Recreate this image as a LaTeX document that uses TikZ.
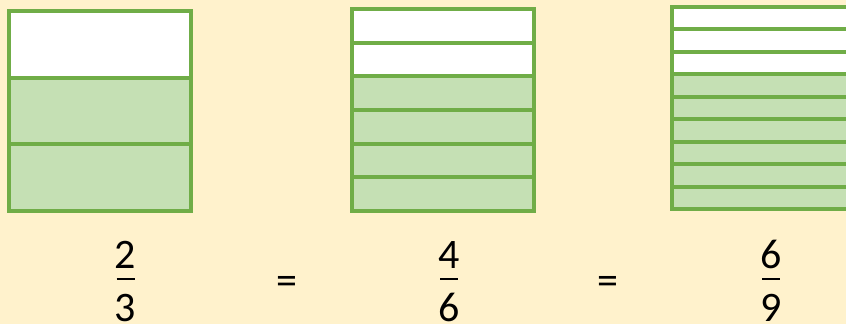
\documentclass[tikz,border=0pt]{standalone}
\usepackage{fontspec}
\setmainfont{Carlito}
\definecolor{bg}{HTML}{FFF2CC}
\definecolor{edge}{HTML}{70AD47}
\definecolor{part}{HTML}{C5E0B4}
\tikzset{
  cell/.style={draw=edge,line width=4pt},
  digit/.style={font=\fontsize{42}{42}\selectfont, anchor=base, inner sep=0pt},
  fbar/.style={line width=2pt, black},
}
\newcommand\barbox[6]{% left right top bottom parts whiteparts
  \pgfmathsetmacro\hh{(#3-#4)/#5}
  \pgfmathtruncatemacro\nn{#5-1}
  \fill[part] (#1,#4) rectangle (#2,#3);
  \fill[white] (#1,#3) rectangle (#2,#3-#6*\hh);
  \foreach \k in {1,...,\nn} {\draw[cell] (#1,#3-\k*\hh) -- (#2,#3-\k*\hh);}
  \draw[cell] (#1,#4) rectangle (#2,#3);
}
\begin{document}
\begin{tikzpicture}[x=1pt,y=1pt]
\fill[bg] (0,0) rectangle (846,324);
\useasboundingbox (0,0) rectangle (846,324);
\clip (0,0) rectangle (846,324);
\barbox{9}{191}{313}{113}{3}{1}
\barbox{352}{534}{315}{113}{6}{2}
\barbox{672}{854}{317}{115}{9}{3}
% fractions
\node[digit] (n1) at (125.5,56) {2};
\node[digit] (d1) at (125.5,3) {3};
\node[digit] (n2) at (449,56) {4};
\node[digit] (d2) at (449,3) {6};
\node[digit] (n3) at (771,56) {6};
\node[digit] (d3) at (771,3) {9};
\draw[fbar] ([xshift=-9pt]n1.south |- 0,45) -- ([xshift=9pt]n1.south |- 0,45);
\draw[fbar] ([xshift=-9pt]n2.south |- 0,45) -- ([xshift=9pt]n2.south |- 0,45);
\draw[fbar] ([xshift=-9pt]n3.south |- 0,45) -- ([xshift=9pt]n3.south |- 0,45);
\node[digit] (e1) at (286.5,29) {=};
\node[digit] (e2) at (608,29) {=};
\end{tikzpicture}
\end{document}
